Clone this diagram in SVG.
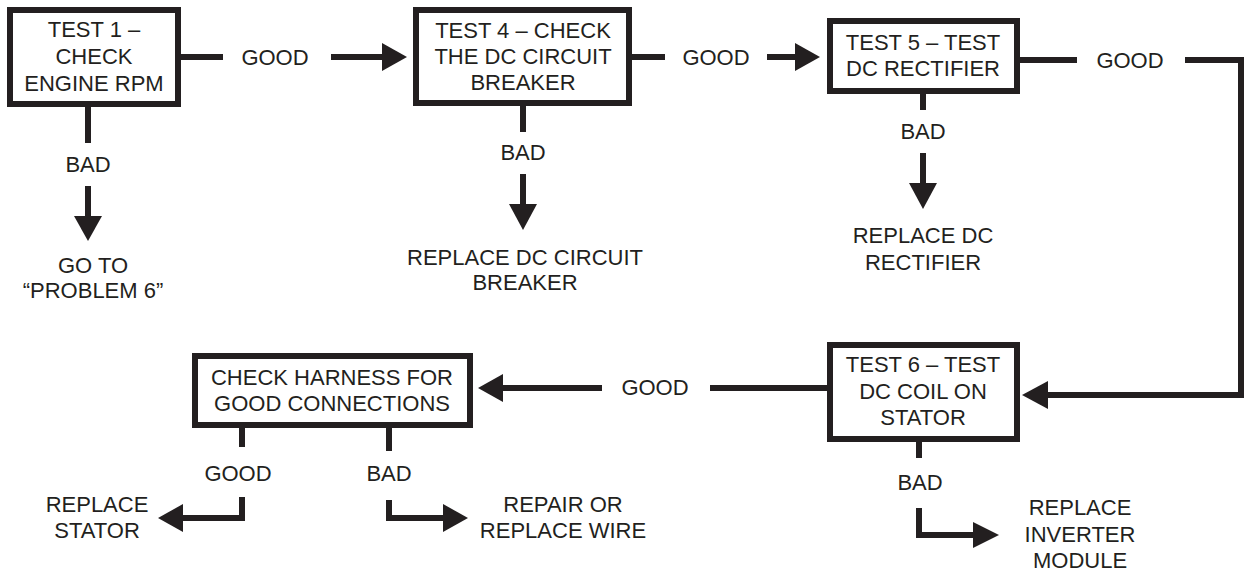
<svg xmlns="http://www.w3.org/2000/svg" width="1246" height="571" viewBox="0 0 1246 571">
<style>
.box{fill:#fff;stroke:#231f20;stroke-width:6}
.ln{fill:none;stroke:#231f20;stroke-width:6;stroke-linejoin:miter}
.hd{fill:#231f20;stroke:none}
text{font-family:"Liberation Sans",Arial,sans-serif;font-size:22px;fill:#231f20;text-anchor:middle}
</style>
<rect width="1246" height="571" fill="#fff"/>
<g id="connectors">
<line class="ln" x1="181" y1="57" x2="223" y2="57"/>
<line class="ln" x1="331" y1="57" x2="385" y2="57"/>
<polygon class="hd" points="382,43 407,57 382,71"/>
<line class="ln" x1="88" y1="107" x2="88" y2="143"/>
<line class="ln" x1="88" y1="186" x2="88" y2="219"/>
<polygon class="hd" points="74,216 88,241 102,216"/>
<line class="ln" x1="632" y1="57" x2="665" y2="57"/>
<line class="ln" x1="767" y1="57" x2="798" y2="57"/>
<polygon class="hd" points="795,43 820,57 795,71"/>
<line class="ln" x1="523" y1="106" x2="523" y2="132"/>
<line class="ln" x1="523" y1="174" x2="523" y2="207"/>
<polygon class="hd" points="509,204 523,230 537,204"/>
<line class="ln" x1="1020" y1="60" x2="1077" y2="60"/>
<path class="ln" d="M1185,60 H1241 V395 H1045"/>
<polygon class="hd" points="1048,381 1022,395 1048,409"/>
<line class="ln" x1="923" y1="94" x2="923" y2="110"/>
<line class="ln" x1="923" y1="153" x2="923" y2="186"/>
<polygon class="hd" points="909,183 923,209 937,183"/>
<line class="ln" x1="827" y1="388" x2="710" y2="388"/>
<line class="ln" x1="602" y1="388" x2="500" y2="388"/>
<polygon class="hd" points="503,374 478,388 503,402"/>
<line class="ln" x1="919" y1="442" x2="919" y2="458"/>
<path class="ln" d="M919,508 V535 H976"/>
<polygon class="hd" points="973,522 999,535 973,548"/>
<line class="ln" x1="242" y1="428" x2="242" y2="447"/>
<path class="ln" d="M242,497 V518 H180"/>
<polygon class="hd" points="183,504 158,518 183,532"/>
<line class="ln" x1="389" y1="428" x2="389" y2="451"/>
<path class="ln" d="M389,500 V518 H446"/>
<polygon class="hd" points="443,504 468,518 443,532"/>
<text x="275" y="65">GOOD</text>
<text x="88" y="172">BAD</text>
<text x="716" y="65">GOOD</text>
<text x="523" y="160">BAD</text>
<text x="1130" y="68">GOOD</text>
<text x="923" y="139">BAD</text>
<text x="655" y="395">GOOD</text>
<text x="920" y="490">BAD</text>
<text x="238" y="481">GOOD</text>
<text x="389" y="481">BAD</text>
</g>
<g id="test1">
<rect class="box" x="10" y="10" width="168" height="94"/>
<text x="94" y="37">TEST 1 –</text>
<text x="94" y="64">CHECK</text>
<text x="94" y="91">ENGINE RPM</text>
</g>
<g id="goto6">
<text x="93" y="273">GO TO</text>
<text x="93" y="298">“PROBLEM 6”</text>
</g>
<g id="test4">
<rect class="box" x="416" y="10" width="213" height="93"/>
<text x="523" y="38">TEST 4 – CHECK</text>
<text x="523" y="64">THE DC CIRCUIT</text>
<text x="523" y="90">BREAKER</text>
</g>
<g id="replaceBreaker">
<text x="525" y="265">REPLACE DC CIRCUIT</text>
<text x="525" y="290">BREAKER</text>
</g>
<g id="test5">
<rect class="box" x="830" y="21" width="187" height="70"/>
<text x="923" y="50">TEST 5 – TEST</text>
<text x="923" y="76">DC RECTIFIER</text>
</g>
<g id="replaceRectifier">
<text x="923" y="243">REPLACE DC</text>
<text x="923" y="270">RECTIFIER</text>
</g>
<g id="test6">
<rect class="box" x="830" y="345" width="187" height="94"/>
<text x="923" y="372">TEST 6 – TEST</text>
<text x="923" y="399">DC COIL ON</text>
<text x="923" y="425">STATOR</text>
</g>
<g id="replaceInverter">
<text x="1080" y="515">REPLACE</text>
<text x="1080" y="542">INVERTER</text>
<text x="1080" y="568">MODULE</text>
</g>
<g id="harness">
<rect class="box" x="195" y="356" width="275" height="69"/>
<text x="332" y="385">CHECK HARNESS FOR</text>
<text x="332" y="411">GOOD CONNECTIONS</text>
</g>
<g id="replaceStator">
<text x="97" y="512">REPLACE</text>
<text x="97" y="538">STATOR</text>
</g>
<g id="repairWire">
<text x="563" y="512">REPAIR OR</text>
<text x="563" y="538">REPLACE WIRE</text>
</g>
</svg>
